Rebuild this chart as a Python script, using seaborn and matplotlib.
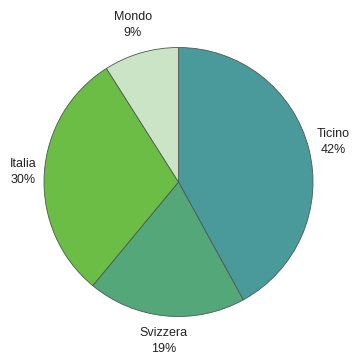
import matplotlib
matplotlib.use("Agg")
import matplotlib.pyplot as plt
import numpy as np
import seaborn as sns

regions = ["Ticino", "Svizzera", "Italia", "Mondo"]
shares = [42, 19, 30, 9]
colors = ["#4b9a9b", "#53a779", "#6cbd46", "#cae4c5"]
label_dist = [1.185, 1.19, 1.16, 1.215]

sns.set_theme(style="white")
plt.rcParams["font.family"] = ["Liberation Sans", "DejaVu Sans"]

fig = plt.figure(figsize=(3.53, 3.52), dpi=100)
ax = fig.add_axes([0, 0, 1, 1])

labels = [f"{r}\n{v}%" for r, v in zip(regions, shares)]
wedges, texts = ax.pie(
    shares,
    labels=labels,
    colors=colors,
    startangle=90,
    counterclock=False,
    labeldistance=1.18,
    radius=1.0,
    wedgeprops=dict(edgecolor="#4a5a50", linewidth=0.6),
    textprops=dict(fontsize=9, color="#222222", linespacing=1.45),
)
# place each label along its wedge's bisector
for w, t, d in zip(wedges, texts, label_dist):
    ang = np.deg2rad((w.theta1 + w.theta2) / 2)
    t.set_position((d * np.cos(ang), d * np.sin(ang)))
    t.set_ha("center")
    t.set_va("center")

r_px = 134.5
cx, cy = 178.5, 352 - 182
ax.set_xlim(-cx / r_px, (353 - cx) / r_px)
ax.set_ylim(-cy / r_px, (352 - cy) / r_px)
ax.set_aspect("auto")
ax.axis("off")

fig.savefig("out.png", dpi=100)
